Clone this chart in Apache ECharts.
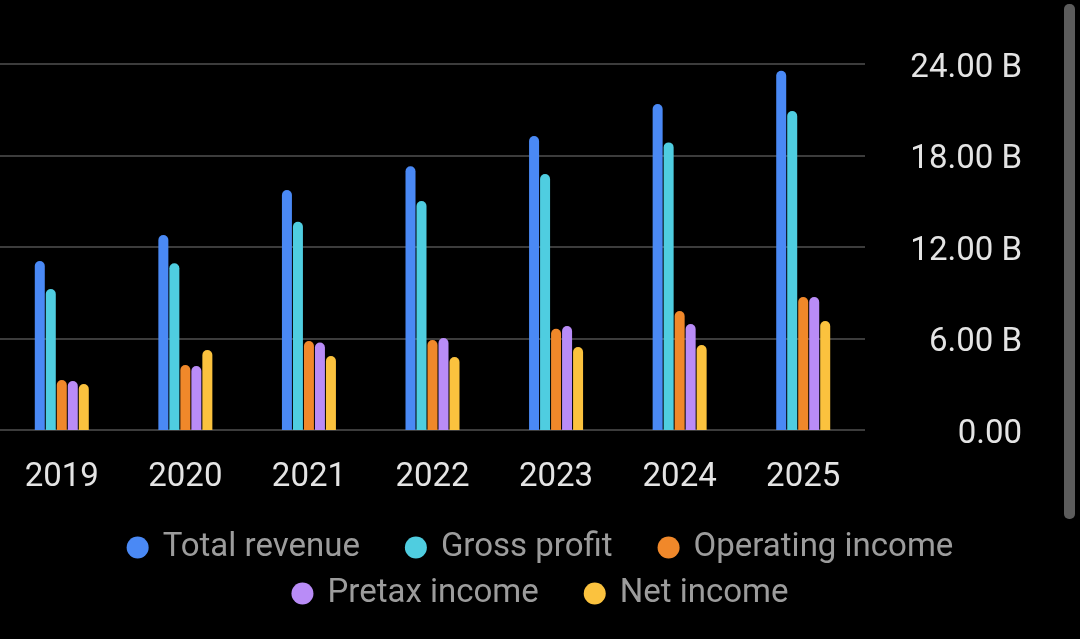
<!DOCTYPE html>
<html>
<head>
<meta charset="utf-8">
<script src="https://cdn.jsdelivr.net/npm/echarts@6/dist/echarts.min.js"></script>
<style>
html,body{margin:0;padding:0;background:#000;}
#chart{width:1080px;height:639px;}
</style>
</head>
<body>
<div id="chart"></div>
<script>
const years = ['2019','2020','2021','2022','2023','2024','2025'];
const seriesNames = ['Total revenue','Gross profit','Operating income','Pretax income','Net income'];
const totalRevenue    = [11.08, 12.79, 15.74, 17.29, 19.28, 21.38, 23.56];
const grossProfit     = [9.25, 10.93, 13.66, 15.02, 16.79, 18.86, 20.92];
const operatingIncome = [3.28, 4.26, 5.84, 5.90, 6.64, 7.80, 8.72];
const pretaxIncome    = [3.21, 4.20, 5.73, 6.03, 6.82, 6.95, 8.72];
const netIncome       = [3.02, 5.25, 4.85, 4.79, 5.44, 5.57, 7.15];
const colors = ['#4a89f5', '#4fcde0', '#f0882a', '#b98cf7', '#fbc23e'];
const yTicks = [0, 6, 24];

const values = [totalRevenue, grossProfit, operatingIncome, pretaxIncome, netIncome];
const chart = echarts.init(document.getElementById('chart'));
const font = 'Roboto';
const legendText = {color: '#9c9c9c', fontSize: 33, fontFamily: font, lineHeight: 33, padding: [0, 0, 0, 9]};
chart.setOption({
  backgroundColor: '#000',
  animation: false,
  grid: {left: 0, right: 215, top: 64, bottom: 209},
  legend: [
    {data: seriesNames.slice(0, 3), left: 'center', top: 526, icon: 'circle', itemWidth: 22, itemHeight: 22, itemGap: 45, textStyle: legendText},
    {data: seriesNames.slice(3), left: 'center', top: 572, icon: 'circle', itemWidth: 22, itemHeight: 22, itemGap: 45, textStyle: legendText}
  ],
  xAxis: {
    type: 'category', data: years,
    axisLine: {show: false}, axisTick: {show: false},
    axisLabel: {color: '#e4e4e4', fontSize: 33, fontFamily: font, margin: 31}
  },
  yAxis: {
    type: 'value', position: 'right', min: yTicks[0], max: yTicks[2], interval: yTicks[1],
    axisLine: {show: false}, axisTick: {show: false},
    splitLine: {lineStyle: {color: '#3c3c3c', width: 2}},
    axisLabel: {
      color: '#e4e4e4', fontSize: 33, fontFamily: font, align: 'right', margin: 157,
      formatter: v => '{a|' + (v === 0 ? '0.00' : v.toFixed(2) + ' B') + '}',
      rich: {a: {color: '#e4e4e4', fontSize: 33, fontFamily: font, lineHeight: 33, padding: [9, 0, 0, 0]}}
    }
  },
  graphic: [{type: 'rect', shape: {x: 1064, y: 4, width: 11, height: 515, r: 5}, style: {fill: '#5c5c5c'}}],
  series: seriesNames.map((n, i) => ({
    name: n, type: 'bar', data: values[i], barWidth: 10, barGap: '10%',
    itemStyle: {color: colors[i], borderRadius: [5, 5, 0, 0]}
  }))
});
</script>
</body>
</html>
